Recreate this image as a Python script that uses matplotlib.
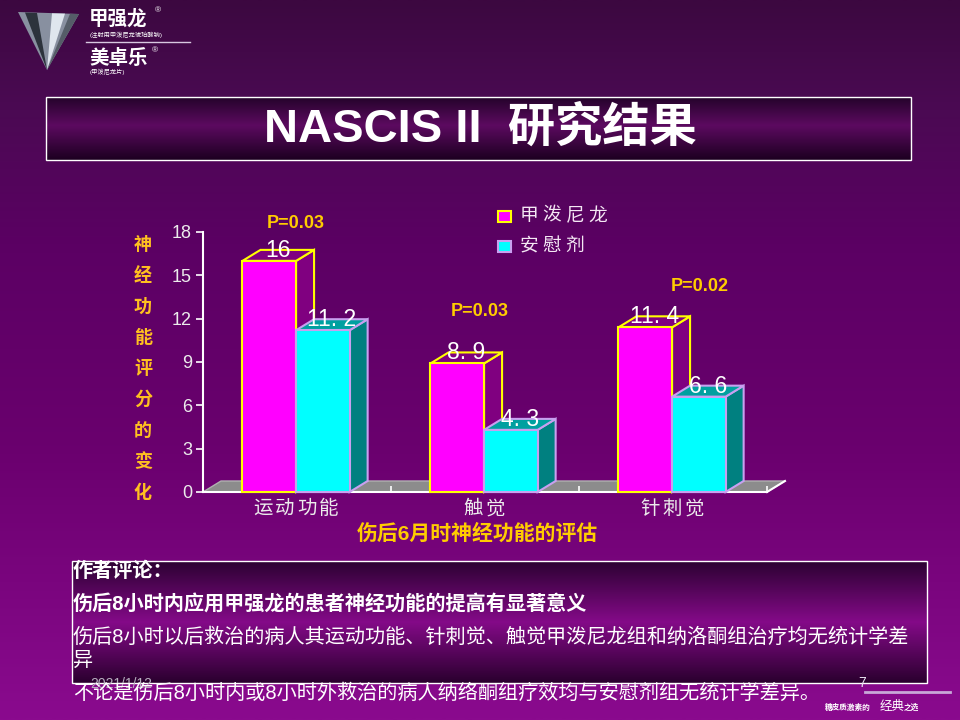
"""
NASCIS II slide: 3D grouped bars of neurological score change
"""
import numpy as np
import matplotlib as mpl
import matplotlib.pyplot as plt
from matplotlib.patches import Polygon, Rectangle
from matplotlib.transforms import ScaledTranslation

mpl.rcParams['font.family'] = ['Liberation Sans', 'Noto Sans CJK SC', 'DejaVu Sans']

# chart data
categories = ['运动功能', '触觉', '针刺觉']
methyl = [16, 8.9, 11.4]
placebo = [11.2, 4.3, 6.6]
series_names = ['甲泼尼龙', '安慰剂']
p_labels = ['P=0.03', 'P=0.03', 'P=0.02']
y_ticks = [0, 3, 6, 9, 12, 15, 18]
y_title = '神经功能评分的变化'
x_title = '伤后6月时神经功能的评估'

comments = [
    '作者评论：',
    '伤后8小时内应用甲强龙的患者神经功能的提高有显著意义',
    '伤后8小时以后救治的病人其运动功能、针刺觉、触觉甲泼尼龙组和纳洛酮组治疗均无统计学差',
    '异',
    '不论是伤后8小时内或8小时外救治的病人纳络酮组疗效均与安慰剂组无统计学差异。',
]
comment_y = [571, 604, 637, 660, 693]
comment_weight = ['bold', 'bold', 'medium', 'medium', 'medium']

# where the P labels sit (data coords), hand placed like on the slide
p_pos = [(0.495, 18.6), (1.47, 12.5), (2.64, 14.2)]

W, H = 960, 720
fig = plt.figure(figsize=(9.6, 7.2), dpi=100)

# background axes in pixel coordinates
bg = fig.add_axes([0, 0, 1, 1], zorder=0)
bg.axis('off')


def vgrad(ax, x0, x1, y0, y1, stops, colors):
    """vertical colour gradient between pixel rows y0 and y1"""
    yy = np.linspace(0, 1, 200)
    rgb = np.array([mpl.colors.to_rgb(c) for c in colors])
    img = np.stack([np.interp(yy, stops, rgb[:, k]) for k in range(3)], axis=-1)
    ax.imshow(img[:, None, :], extent=[x0, x1, y1, y0], aspect='auto',
              interpolation='bilinear', zorder=0)


vgrad(bg, 0, W, 0, H, [0, 0.14, 0.35, 0.62, 1.0],
      ['#3c0840', '#4a0a52', '#5c0064', '#6a006e', '#8a0a8e'])

# logo, top-left
bg.add_patch(Polygon([(18, 12), (79, 14), (47, 70)], closed=True,
                     fc='#8890a0', ec='none', zorder=2))
bg.add_patch(Polygon([(25, 12.5), (37, 13), (47, 70)], closed=True,
                     fc='#2c333c', ec='none', zorder=3))
bg.add_patch(Polygon([(52, 13.3), (65, 13.6), (47, 70)], closed=True,
                     fc='#dfe6ee', ec='none', zorder=3))
bg.add_patch(Polygon([(70, 13.8), (79, 14), (47, 70)], closed=True,
                     fc='#555d68', ec='none', zorder=3))
bg.text(89, 19, '甲强龙', color='white', fontsize=14, fontweight='bold',
        va='center', ha='left', zorder=4)
bg.text(155, 11, '®', color='white', fontsize=6, va='center', zorder=4)
bg.text(90, 35, '(注射用甲泼尼龙琥珀酸钠)', color='white', fontsize=4.5,
        va='center', zorder=4)
bg.plot([86, 190], [42, 42], color='#d8c8e0', lw=1, zorder=4)
bg.text(89, 58, '美卓乐', color='white', fontsize=14, fontweight='bold',
        va='center', ha='left', zorder=4)
bg.text(152, 51, '®', color='white', fontsize=6, va='center', zorder=4)
bg.text(90, 72, '(甲泼尼龙片)', color='white', fontsize=4.5, va='center',
        zorder=4)

# title box
vgrad(bg, 46, 911, 97, 160, [0, 0.45, 1.0], ['#24032a', '#5c0a60', '#1c0020'])
bg.add_patch(Rectangle((46, 97), 865, 63, fill=False, ec='white', lw=1,
                       zorder=3))
bg.text(480, 129, 'NASCIS II  研究结果', color='white', fontsize=34,
        fontweight='bold', ha='center', va='center', zorder=4)

# comment box
vgrad(bg, 72, 927, 561, 683, [0, 0.5, 1.0], ['#2c0232', '#840a88', '#2a002e'])
bg.add_patch(Rectangle((72, 561), 855, 122, fill=False, ec='white', lw=1,
                       zorder=3))
bg.text(90, 684, '2021/1/12', color='#b8b0c0', fontsize=10, va='center',
        zorder=4)
bg.text(858, 683, '7', color='#e8e0f0', fontsize=10, va='center', zorder=4)
bg.plot([865, 950], [692, 692], color='#c8a8d8', lw=2, zorder=4)
bg.text(825, 708, '糖皮质激素的', color='white', fontsize=5.5,
        fontweight='bold', va='center', ha='left', zorder=4)
bg.text(880, 707, '经典', color='white', fontsize=9, va='center', ha='left',
        zorder=4)
bg.text(904, 708, '之选', color='white', fontsize=5.5, fontweight='bold',
        va='center', ha='left', zorder=4)
for line, ly, wt in zip(comments, comment_y, comment_weight):
    bg.text(73, ly, line, color='white', fontsize=14.5, fontweight=wt,
            va='center', ha='left', zorder=5)


def spaced(ax, x, y, s, pitch, transform, **kw):
    """place characters one by one with a fixed pitch (pixels)"""
    n = len(s)
    for k, ch in enumerate(s):
        off = (k - (n - 1) / 2) * pitch
        tr = transform + ScaledTranslation(off / 100, 0, fig.dpi_scale_trans)
        ax.text(x, y, ch, transform=tr, ha='center', va='center', **kw)


# y title, stacked characters
for k, ch in enumerate(y_title):
    bg.text(143, 245 + 31 * k, ch, color='#ffc020', fontsize=13,
            fontweight='bold', ha='center', va='center', zorder=4)

# legend
legend_style = [('#ff00ff', '#ffff00'), ('#00ffff', '#c8a0f0')]
for k, (name, (fc, ec)) in enumerate(zip(series_names, legend_style)):
    yy = 216 + 30 * k
    bg.add_patch(Rectangle((498, yy - 5.5), 13, 11, fc=fc, ec=ec, lw=1.5,
                           zorder=4))
    spaced(bg, 521 + (len(name) - 1) * 23 / 2 + 8, yy, name, 23,
           bg.transData, color='#f4e8f4', fontsize=13.5, zorder=4)

bg.set_xlim(0, W)
bg.set_ylim(H, 0)

# chart axes
ax = fig.add_axes([203 / W, (H - 492) / H, 564 / W, 260 / H], zorder=2)
ax.set_facecolor('none')
ax.set_xlim(0, 3)
ax.set_ylim(0, 18)
for side in ['top', 'right']:
    ax.spines[side].set_visible(False)
for side in ['left', 'bottom']:
    ax.spines[side].set_color('white')
    ax.spines[side].set_linewidth(1.5)
ax.set_yticks(y_ticks)
ax.set_xticks([0, 1, 2, 3])
ax.set_xticklabels([])
ax.tick_params(axis='y', direction='out', length=5, width=1.2, colors='white',
               labelcolor='#ececec', labelsize=13, pad=3)
ax.tick_params(axis='x', direction='in', length=4, width=1.2, colors='white')

DX, DY = 18 / 188, 11 / (260 / 18)   # depth offset in data units
BW, X0 = 0.285, 0.21                 # bar width and left gap per category

# floor
ax.add_patch(Polygon([(0, 0), (3, 0), (3 + DX, DY), (DX, DY)], closed=True,
                     fc='#8c8c8c', ec='#b0b0b0', lw=1, clip_on=False,
                     zorder=1))
ax.plot([3, 3 + DX], [0, DY], color='white', lw=1.5, clip_on=False, zorder=1)


def bar3d(x, h, front, top, side, edge, z):
    kw = dict(closed=True, ec=edge, lw=1.5, clip_on=False, zorder=z,
              joinstyle='miter')
    ax.add_patch(Polygon([(x + BW, 0), (x + BW + DX, DY),
                          (x + BW + DX, h + DY), (x + BW, h)], fc=side, **kw))
    ax.add_patch(Polygon([(x, h), (x + BW, h), (x + BW + DX, h + DY),
                          (x + DX, h + DY)], fc=top, **kw))
    ax.add_patch(Polygon([(x, 0), (x + BW, 0), (x + BW, h), (x, h)],
                         fc=front, **kw))
    ax.text(x + BW / 2 + DX / 2, h + DY / 2 + 0.35,
            f'{h:g}'.replace('.', '. '), color='white', fontsize=16.5,
            ha='center', va='center', zorder=z + 1)


for i in range(len(categories)):
    bar3d(i + X0, methyl[i], '#ff00ff', '#800080', '#800080', '#ffff00',
          3 + 4 * i)
    bar3d(i + X0 + BW, placebo[i], '#00ffff', '#00a0a0', '#008080',
          '#c8a0f0', 5 + 4 * i)
    spaced(ax, i + X0 + BW, -1.2, categories[i], 22, ax.transData,
           color='#ececec', fontsize=14)
    ax.text(p_pos[i][0], p_pos[i][1], p_labels[i], color='#ffcc00',
            fontsize=13, fontweight='bold', ha='center', va='center',
            zorder=20)

ax.text(1.46, -2.9, x_title, color='#ffcc00', fontsize=15, fontweight='bold',
        ha='center', va='center')

plt.savefig('out.png', dpi=100)
